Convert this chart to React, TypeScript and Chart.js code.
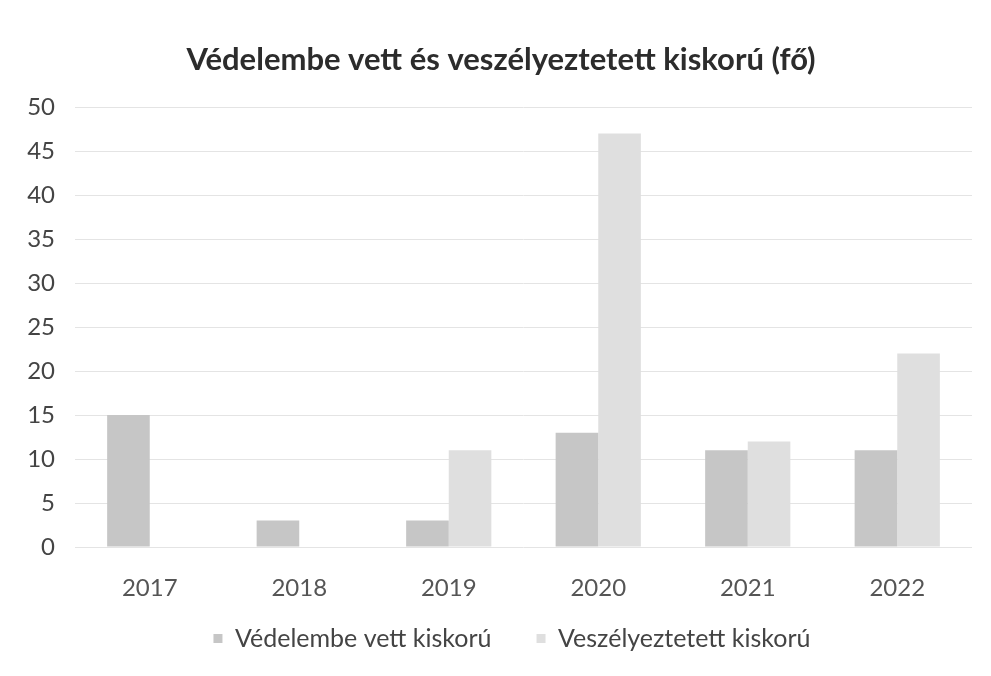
import React, { useEffect, useRef } from "react";
import { Chart, registerables } from "chart.js";

Chart.register(...registerables);

const categories = ["2017", "2018", "2019", "2020", "2021", "2022"];
const vedelembeVett = [15, 3, 3, 13, 11, 11];
const veszelyeztetett = [0, 0, 11, 47, 12, 22];
const seriesNames = ["Védelembe vett kiskorú", "Veszélyeztetett kiskorú"];
const chartTitle = "Védelembe vett és veszélyeztetett kiskorú (fő)";

const boxShift = {
  id: "boxShift",
  afterLayout(chart: any) {
    const lg = chart.legend;
    if (lg) {
      lg.top -= 22;
      lg.bottom -= 22;
      lg.left += 26;
      lg.right += 26;
    }
    const tb = chart.titleBlock;
    if (tb) {
      tb.left += 15;
      tb.right += 15;
    }
  },
};

export default function App() {
  const ref = useRef<HTMLCanvasElement | null>(null);
  useEffect(() => {
    if (!ref.current) return;
    const chart = new Chart(ref.current, {
      type: "bar",
      data: {
        labels: categories,
        datasets: [
          {
            label: seriesNames[0],
            data: vedelembeVett,
            backgroundColor: "#c6c6c6",
            borderWidth: 0,
          },
          {
            label: seriesNames[1],
            data: veszelyeztetett,
            backgroundColor: "#dfdfdf",
            borderWidth: 0,
          },
        ],
      },
      plugins: [boxShift],
      options: {
        animation: false,
        responsive: false,
        layout: { padding: { left: 0, right: 19, top: 0, bottom: -7 } },
        datasets: {
          bar: { barPercentage: 1, categoryPercentage: 0.57 },
        },
        plugins: {
          title: {
            display: true,
            text: chartTitle,
            color: "#2c2c2c",
            font: { family: "Lato", size: 31, weight: "bold" },
            padding: { top: 41, bottom: 29 },
          },
          legend: {
            position: "bottom",
            labels: {
              boxWidth: 9,
              boxHeight: 9,
              color: "#444444",
              font: { family: "Lato", size: 25 },
              padding: 45,
            },
          },
          tooltip: { enabled: false },
        },
        scales: {
          x: {
            grid: { display: false },
            border: { display: false },
            ticks: {
              color: "#555555",
              font: { family: "Lato", size: 24 },
              padding: 19,
            },
            afterFit: (scale: any) => {
              scale.height = 56;
            },
          },
          y: {
            min: 0,
            max: 50,
            ticks: {
              stepSize: 5,
              color: "#444444",
              font: { family: "Lato", size: 24 },
              padding: 20,
            },
            grid: { color: "#e4e4e4", drawTicks: false },
            border: { display: false },
            afterFit: (scale: any) => {
              scale.width = 75;
            },
          },
        },
      },
    });
    return () => chart.destroy();
  }, []);
  return (
    <div style={{ position: "fixed", left: 0, top: 0, width: 991, height: 676, background: "#ffffff" }}>
      <canvas ref={ref} width={991} height={676} />
    </div>
  );
}
